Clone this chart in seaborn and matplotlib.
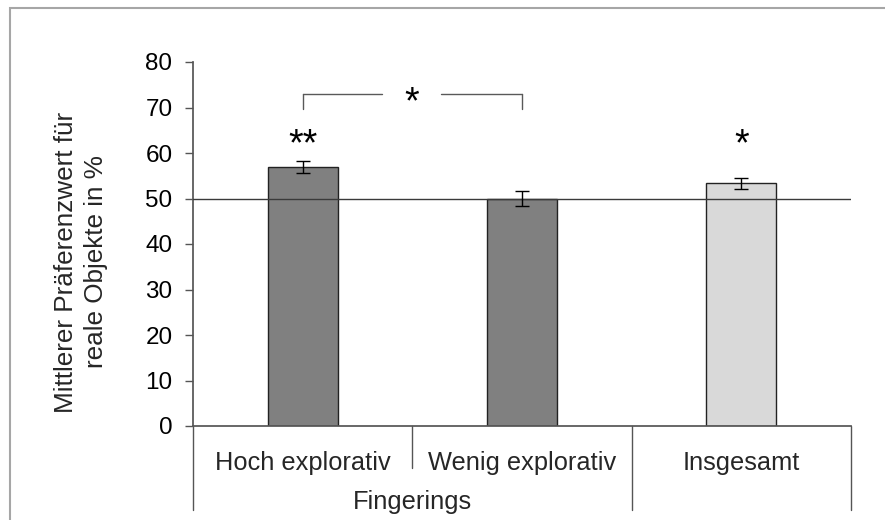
import matplotlib
matplotlib.use("Agg")
import matplotlib.pyplot as plt
import matplotlib.transforms as mtransforms
from matplotlib.patches import Rectangle
import seaborn as sns
import pandas as pd

categories = ["Hoch explorativ", "Wenig explorativ", "Insgesamt"]
values = [56.9, 50.0, 53.3]
errors = [1.4, 1.7, 1.3]
bar_colors = ["#808080", "#808080", "#D9D9D9"]
sig_labels = ["**", "", "*"]
group_label = "Fingerings"
ylabel = "Mittlerer Präferenzwert für\nreale Objekte in %"
yticks = [0, 10, 20, 30, 40, 50, 60, 70, 80]
ref_value = 50

sns.set_theme(style="white")
plt.rcParams["font.family"] = ["Liberation Sans", "DejaVu Sans"]

df = pd.DataFrame({"cat": categories, "val": values})

FS = 18.3
fig = plt.figure(figsize=(8.85, 5.2), dpi=100)
ax = fig.add_axes([193 / 885, 1 - 426 / 520, (851 - 193) / 885, (426 - 62) / 520])

sns.barplot(data=df, x="cat", y="val", hue="cat", palette=bar_colors, legend=False,
            width=0.32, ax=ax, edgecolor="#222222", linewidth=1.0, saturation=1)
ax.errorbar(range(len(values)), values, yerr=errors, fmt="none", ecolor="black",
            elinewidth=1.0, capsize=5, capthick=1.0, zorder=5)

ax.set_ylim(0, 80)
ax.set_xlim(-0.5, len(categories) - 0.5)
ax.set_yticks(yticks)
ax.tick_params(axis="y", which="both", left=True, length=5.8, width=1, color="#555555",
               labelsize=17.5, pad=9, labelcolor="black")
ax.tick_params(axis="x", bottom=False, labelbottom=False)
ax.set_xlabel("")
ax.set_ylabel("")
fig.text(81 / 885, 1 - 262 / 520, ylabel, rotation=90, ha="center", va="center",
         fontsize=18.8, linespacing=1.3, multialignment="center")

for s in ["top", "right"]:
    ax.spines[s].set_visible(False)
ax.spines["left"].set_color("#555555")
ax.spines["bottom"].set_color("#555555")

# reference line
ax.axhline(ref_value, color="#3a3a3a", linewidth=1.0, zorder=4)

# significance markers above bars
for i, lab in enumerate(sig_labels):
    if lab:
        ax.text(i, 61.7, lab, ha="center", va="center", fontsize=27, color="black")

# bracket between first two bars
bcol = "#595959"
ax.plot([0, 0], [69.6, 72.9], color=bcol, lw=1.0, clip_on=False)
ax.plot([1, 1], [69.6, 72.9], color=bcol, lw=1.0, clip_on=False)
ax.plot([0, 0.36], [72.9, 72.9], color=bcol, lw=1.0, clip_on=False)
ax.plot([0.63, 1], [72.9, 72.9], color=bcol, lw=1.0, clip_on=False)
ax.text(0.495, 70.9, "*", ha="center", va="center", fontsize=27, color="black")

# category axis dividers and labels below
trans = mtransforms.blended_transform_factory(ax.transData, ax.transAxes)
low = -(510 - 426) / 364
mid = -(468 - 426) / 364
for xb, ylow in [(-0.5, low), (0.5, mid), (1.5, low), (2.5, low)]:
    ax.plot([xb, xb], [0, ylow], transform=trans, color="#555555", lw=1.0, clip_on=False)
for i, c in enumerate(categories):
    ax.text(i, -(470 - 426) / 364, c, transform=trans, ha="center", va="baseline", fontsize=FS)
ax.text(0.5, -(509 - 426) / 364, group_label, transform=trans, ha="center", va="baseline", fontsize=FS)

# figure border
fig.patches.append(Rectangle((10 / 885, -0.05), 1.2, 1 - 8 / 520 + 0.05, transform=fig.transFigure,
                             fill=False, edgecolor="#A6A6A6", linewidth=1.5, zorder=0))

fig.savefig("out.png", dpi=100)
